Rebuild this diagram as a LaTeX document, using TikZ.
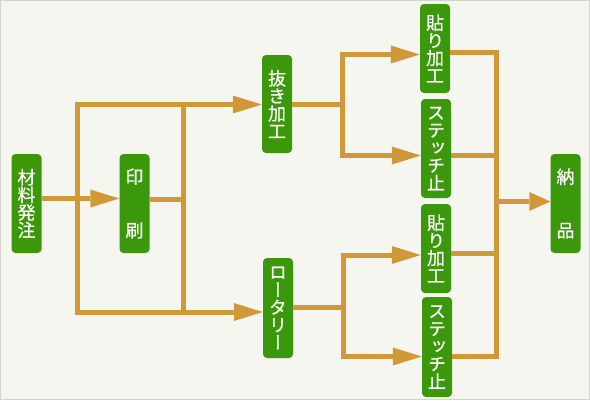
\documentclass[tikz,border=0pt]{standalone}
\usepackage{fontspec}
\usepackage{graphicx}
\newfontfamily\jpvfont[RawFeature=+vert,FakeBold=0.6]{Noto Sans CJK JP}
\usetikzlibrary{arrows.meta}
\definecolor{bgc}{RGB}{246,246,240}
\definecolor{edgec}{RGB}{212,212,206}
\definecolor{flowc}{RGB}{208,152,56}
\definecolor{boxc}{RGB}{58,152,10}
\begin{document}
\begin{tikzpicture}[x=1pt,y=-1pt,
  box/.style={rectangle, rounded corners=4pt, fill=boxc, text=white,
    minimum width=30pt, inner sep=0pt, align=center,
    font=\jpvfont\fontsize{18}{17.6}\selectfont},
  flow/.style={draw=flowc, line width=5pt, line join=miter},
  arr/.style={flow, -{Triangle[length=29pt,width=18pt,line width=0pt]}},
  arrs/.style={flow, -{Triangle[length=21pt,width=19pt,line width=0pt]}}]
\useasboundingbox (0,0) rectangle (590,400);
\fill[bgc] (0,0) rectangle (590,400);
\draw[edgec, line width=1pt] (0.5,0.5) rectangle (589.5,399.5);

% nodes
\node[box, minimum height=99pt] (zai) at (26.5,203.5) {材\\料\\発\\注};
\node[box, minimum height=99pt] (in) at (134.5,203.5) {印\\[36pt]刷};
\node[box, minimum height=98pt] (nuki) at (277,104) {抜\\き\\加\\工};
\node[box, minimum height=100pt] (rot) at (278,308) {ロ\\ー\\タ\\リ\\ー};
\node[box, minimum height=89pt] (h1) at (435,48.5) {貼\\り\\加\\工};
\node[box, minimum height=99pt] (s1) at (436,148.5) {ス\\テ\\ッ\\チ\\止};
\node[box, minimum height=89pt] (h2) at (436,248.5) {貼\\り\\加\\工};
\node[box, minimum height=100pt] (s2) at (437,347) {ス\\テ\\ッ\\チ\\止};
\node[box, minimum height=99pt] (nou) at (565.5,203.5) {納\\[36pt]品};

% left part
\coordinate (m0) at (60,198.5);
\draw[arr] (zai.east |- m0) -- (in.west |- m0);
\coordinate (a1) at (77.5,104.5);
\coordinate (a2) at (77.5,312);
\draw[arr] (a2) -- (a1) -- (nuki.west |- a1);
\draw[arr] (a1) -- (a2) -- (rot.west |- a2);
\coordinate (b0) at (183,199);
\coordinate (b1) at (183,104.5);
\coordinate (b2) at (183,312);
\draw[flow] (b1) -- (b2);
\draw[flow] (in.east |- b0) -- (b0);

% upper middle
\coordinate (c0) at (342.5,104);
\coordinate (c1) at (342.5,54.5);
\coordinate (c2) at (342.5,155.5);
\draw[flow] (nuki.east |- c0) -- (c0);
\draw[arr] (c2) -- (c1) -- (h1.west |- c1);
\draw[arr] (c1) -- (c2) -- (s1.west |- c2);

% lower middle
\coordinate (d0) at (343.5,307.5);
\coordinate (d1) at (343.5,255);
\coordinate (d2) at (343.5,356.5);
\draw[flow] (rot.east |- d0) -- (d0);
\draw[arr] (d2) -- (d1) -- (h2.west |- d1);
\draw[arr] (d1) -- (d2) -- (s2.west |- d2);

% right part
\coordinate (e1) at (496,52.5);
\coordinate (e2) at (496,356.5);
\coordinate (e3) at (496,155);
\coordinate (e4) at (496,253);
\coordinate (e5) at (496,201.5);
\draw[flow] (h1.east |- e1) -- (e1) -- (e2) -- (s2.east |- e2);
\draw[flow] (s1.east |- e3) -- (e3);
\draw[flow] (h2.east |- e4) -- (e4);
\draw[arrs] (e5) -- (nou.west |- e5);
\end{tikzpicture}
\end{document}
